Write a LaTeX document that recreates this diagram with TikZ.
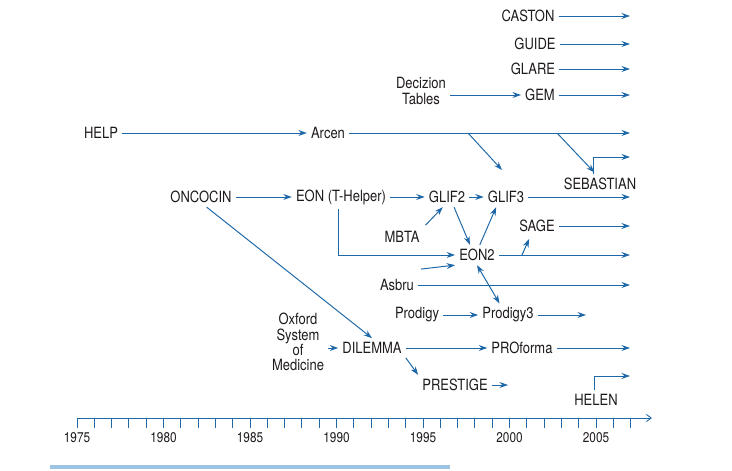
\documentclass[tikz,border=0pt]{standalone}
\usepackage{fontspec}
\setmainfont{TeX Gyre Heros}[FakeStretch=0.84]
\usetikzlibrary{arrows.meta,calc}
\definecolor{flowblue}{RGB}{31,104,168}
\definecolor{barblue}{RGB}{157,195,226}
\definecolor{inkgray}{RGB}{30,26,27}

\begin{document}
\begin{tikzpicture}[x=0.025cm,y=-0.025cm,
  sys/.style={inner sep=2.8pt,text=inkgray,font=\fontsize{11}{10.8}\selectfont},
  yearlab/.style={inner sep=1pt,text=inkgray,font=\fontsize{10}{10}\selectfont},
  flow/.style={flowblue,line width=0.7pt,-{Stealth[length=6pt,width=4.2pt]}},
  both/.style={flow,{Stealth[length=6pt,width=4.2pt]}-{Stealth[length=6pt,width=4.2pt]}}]
\useasboundingbox (0,0) rectangle (732,471);
\coordinate (edge) at (630,0);
% systems
\node[sys] (caston) at (528,16) {CASTON};
\node[sys] (guide) at (535,44) {GUIDE};
\node[sys] (glare) at (533,69) {GLARE};
\node[sys] (gem) at (540,95) {GEM};
\node[sys,align=center] (dec) at (421,91) {Decizion\\Tables};
\node[sys] (help) at (101,133) {HELP};
\node[sys] (arcen) at (328,133) {Arcen};
\node[sys] (sebastian) at (600,184) {SEBASTIAN};
\node[sys] (oncocin) at (201,197) {ONCOCIN};
\node[sys] (eon) at (341,197) {EON (T-Helper)};
\node[sys] (glif2) at (447,197) {GLIF2};
\node[sys] (glif3) at (506,197) {GLIF3};
\node[sys] (mbta) at (402,237) {MBTA};
\node[sys] (sage) at (537,226) {SAGE};
\node[sys] (eon2) at (477,255) {EON2};
\node[sys] (asbru) at (397,285) {Asbru};
\node[sys] (prodigy) at (417,315) {Prodigy};
\node[sys] (prodigy3) at (508,315) {Prodigy3};
\node[sys,align=center] (osm) at (298,342) {Oxford\\System\\of\\Medicine};
\node[sys] (dilemma) at (372,348) {DILEMMA};
\node[sys] (proforma) at (522,348) {PROforma};
\node[sys] (prestige) at (455,385) {PRESTIGE};
\node[sys] (helen) at (596,400) {HELEN};
% branch points and free ends
\coordinate (arcsplit1) at (468,133);
\coordinate (arcsplit2) at (557,133);
\coordinate (arctip) at (502,170);
\coordinate (eonsplit) at (522,255);
\coordinate (sebend) at (630,157);
\coordinate (helenend) at (630,376);
\coordinate (prodend) at (586,315);
\coordinate (prestend) at (508,385);
% lines running to the right edge
\foreach \n in {caston,guide,glare,gem,arcen,glif3,sage,eon2,asbru,proforma}
  \draw[flow] (\n) -- (\n -| edge);
\draw[flow] (dec.east |- gem) -- (gem);
\draw[flow] (help) -- (arcen);
\draw[flow] (arcsplit1) -- (arctip);
\draw[flow] (arcsplit2) -- ([xshift=-4pt,yshift=1pt]sebastian.north);
\draw[flow] ([xshift=-4.3pt]sebastian.north) |- (sebend);
\draw[flow] (oncocin) -- (eon);
\draw[flow] (eon) -- (glif2);
\draw[flow] (glif2) -- (glif3);
\draw[flow] ([xshift=-2pt]eon.south) |- (eon2);
\draw[flow,shorten <=2pt] (mbta.north east) -- ([xshift=-3pt]glif2.south);
\draw[flow] ([xshift=5pt]glif2.south) -- ([xshift=-5pt]eon2.north);
\draw[flow] ([xshift=2pt]eon2.north) -- ([xshift=-7pt]glif3.south);
\draw[flow] (eonsplit) -- ([xshift=10pt,yshift=-2pt]sage.south west);
\draw[flow,shorten <=2pt] ([yshift=4pt]asbru.north east) -- (eon2.south west);
\draw[both] (eon2.south) -- ([xshift=-6pt]prodigy3.north);
\draw[flow] (prodigy) -- (prodigy3);
\draw[flow] (prodigy3) -- (prodend);
\draw[flow] ([xshift=4pt]oncocin.south) -- (dilemma.north);
\draw[flow] (osm.east |- dilemma) -- (dilemma);
\draw[flow] (dilemma) -- (proforma);
\draw[flow] (dilemma.south east) -- (prestige.north west);
\draw[flow] (prestige) -- (prestend);
\draw[flow] ([xshift=-1.4pt]helen.north) |- (helenend);
% time axis
\coordinate (axstart) at (77,418);
\coordinate (axend) at (652,418);
\draw[flowblue,line width=0.6pt,-{Straight Barb[length=3.5pt,width=5pt]}] (axstart) -- (axend);
\foreach \i in {0,...,32}
  \draw[flowblue,line width=0.6pt] ($(axstart)+(17.3*\i,0)$) -- ++(0,10);
\foreach \yr [count=\i from 0] in {1975,1980,...,2005}
  \node[yearlab] (yr\yr) at ($(axstart)+(86.5*\i,20)$) {\yr};
\draw[barblue,line width=2.2pt] (50,467) -- (450,467);
\end{tikzpicture}
\end{document}
